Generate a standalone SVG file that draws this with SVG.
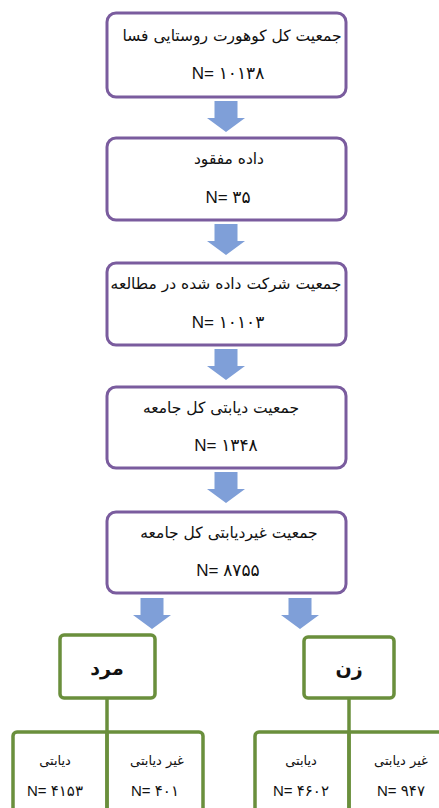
<svg xmlns="http://www.w3.org/2000/svg" width="439" height="808" viewBox="0 0 439 808">
<style>
.box{fill:#ffffff;stroke:#7a5c9e;stroke-width:3}
.gbox{fill:none;stroke:#6a8f3c;stroke-width:3.5}
.gfill{fill:#ffffff;stroke:#6a8f3c;stroke-width:3.5}
.gline{stroke:#6a8f3c;stroke-width:3.5;fill:none}
.arrow{fill:#7f9fd8}
.t{font-family:"DejaVu Sans",sans-serif;font-size:15.5px;fill:#111;text-anchor:middle}
.s{font-family:"DejaVu Sans",sans-serif;font-size:13px;fill:#111;text-anchor:middle}
.n{font-family:"Liberation Sans","DejaVu Sans",sans-serif;font-size:17px;fill:#111;text-anchor:middle}
.m{font-family:"Liberation Sans","DejaVu Sans",sans-serif;font-size:15px;fill:#111;text-anchor:middle}
.b{font-family:"DejaVu Sans",sans-serif;font-size:19px;font-weight:bold;fill:#111;text-anchor:middle}
</style>
<defs>
<path id="arr" d="M-11.5,0 H11.5 V17 H19 L0,31 L-19,17 H-11.5 Z"/>
</defs>
<rect width="439" height="808" fill="#ffffff"/>
<g id="connectors">
<use href="#arr" class="arrow" transform="translate(226,101)"/>
<use href="#arr" class="arrow" transform="translate(226,224)"/>
<use href="#arr" class="arrow" transform="translate(226,349)"/>
<use href="#arr" class="arrow" transform="translate(226,472)"/>
<use href="#arr" class="arrow" transform="translate(152,598)"/>
<use href="#arr" class="arrow" transform="translate(300,598)"/>
<line class="gline" x1="107" y1="698" x2="107" y2="808"/>
<line class="gline" x1="349" y1="698" x2="349" y2="808"/>
</g>
<g id="node1">
<rect class="box" x="107" y="13" width="239" height="84" rx="9"/>
<text class="t" x="232" y="41">جمعیت کل کوهورت روستایی فسا</text>
<text class="n" x="228" y="79">N= ۱۰۱۳۸</text>
</g>
<g id="node2">
<rect class="box" x="107" y="138" width="239" height="82" rx="9"/>
<text class="t" x="229" y="164">داده مفقود</text>
<text class="n" x="228" y="203">N= ۳۵</text>
</g>
<g id="node3">
<rect class="box" x="107" y="263" width="239" height="82" rx="9"/>
<text class="t" x="226" y="289">جمعیت شرکت داده شده در مطالعه</text>
<text class="n" x="228" y="328">N= ۱۰۱۰۳</text>
</g>
<g id="node4">
<rect class="box" x="107" y="387" width="239" height="81" rx="9"/>
<text class="t" x="221" y="413">جمعیت دیابتی کل جامعه</text>
<text class="n" x="226" y="451">N= ۱۳۴۸</text>
</g>
<g id="node5">
<rect class="box" x="107" y="512" width="239" height="81" rx="9"/>
<text class="t" x="229" y="538">جمعیت غیردیابتی کل جامعه</text>
<text class="n" x="228" y="576">N= ۸۷۵۵</text>
</g>
<g id="male">
<rect class="gfill" x="60" y="635" width="95" height="63" rx="4"/>
<text class="b" x="107" y="675">مرد</text>
</g>
<g id="female">
<rect class="gfill" x="304" y="637" width="90" height="61" rx="4"/>
<text class="b" x="349" y="675">زن</text>
</g>
<g id="male-table">
<rect class="gbox" x="13" y="732" width="190" height="100" rx="4"/>
<line class="gline" x1="107" y1="732" x2="107" y2="808"/>
<text class="s" x="55" y="765">دیابتی</text>
<text class="m" x="55" y="796">N= ۴۱۵۳</text>
<text class="s" x="157" y="765">غیر دیابتی</text>
<text class="m" x="155" y="796">N= ۴۰۱</text>
</g>
<g id="female-table">
<rect class="gbox" x="255" y="732" width="200" height="100" rx="4"/>
<line class="gline" x1="349" y1="732" x2="349" y2="808"/>
<text class="s" x="301" y="765">دیابتی</text>
<text class="m" x="301" y="796">N= ۴۶۰۲</text>
<text class="s" x="401" y="765">غیر دیابتی</text>
<text class="m" x="401" y="796">N= ۹۴۷</text>
</g>
</svg>
